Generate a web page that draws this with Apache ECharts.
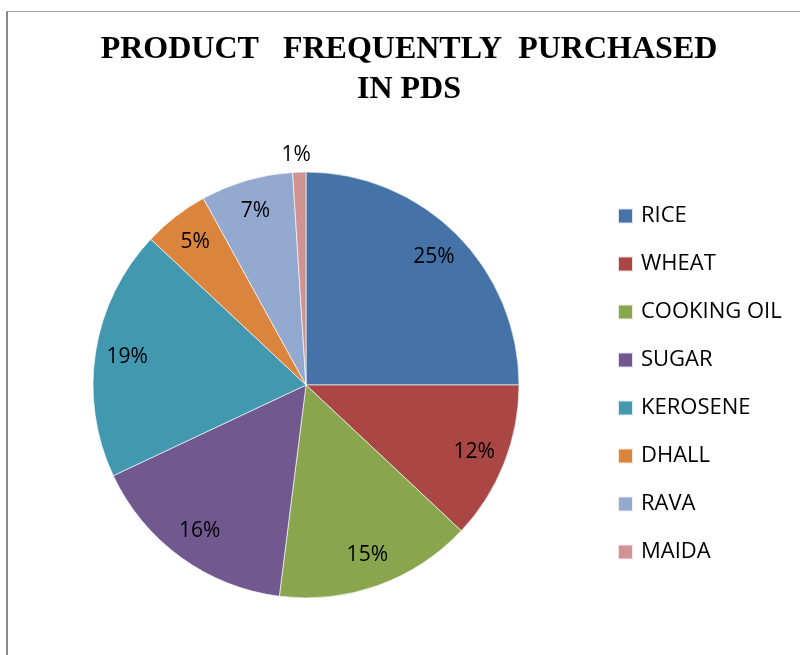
<!DOCTYPE html>
<html>
<head>
<meta charset="utf-8">
<script src="https://cdn.jsdelivr.net/npm/echarts@6/dist/echarts.min.js"></script>
<style>
html,body{margin:0;padding:0;background:#fff;}
#chart{width:800px;height:655px;}
</style>
</head>
<body>
<div id="chart"></div>
<script>
const categories = ['RICE', 'WHEAT', 'COOKING OIL', 'SUGAR', 'KEROSENE', 'DHALL', 'RAVA', 'MAIDA'];
const values = [25, 12, 15, 16, 19, 5, 7, 1];
const colors = ['#4572A7', '#AA4643', '#89A54E', '#71588F', '#4198AF', '#DB843D', '#93A9CF', '#D19392'];
const titleText = 'PRODUCT   FREQUENTLY  PURCHASED\nIN PDS';

const chart = echarts.init(document.getElementById('chart'));

const mainData = categories.map((c, i) => ({
  name: c, value: values[i], itemStyle: { color: colors[i] }
}));
const labelData = categories.map((c, i) => {
  const item = { name: c, value: values[i] };
  if (c === 'MAIDA') {
    item.label = { position: 'outside' };
    item.labelLine = { show: false, length: 17, length2: 0 };
  }
  return item;
});

chart.setOption({
  animation: false,
  backgroundColor: '#ffffff',
  graphic: [
    { type: 'line', shape: { x1: 7, y1: 11, x2: 7, y2: 660 }, style: { stroke: '#888888', lineWidth: 2 }, silent: true },
    { type: 'line', shape: { x1: 6, y1: 11.5, x2: 805, y2: 11.5 }, style: { stroke: '#a0a0a0', lineWidth: 1.2 }, silent: true }
  ],
  title: {
    text: titleText,
    left: 409,
    top: 30,
    padding: 0,
    textAlign: 'center',
    textStyle: {
      fontFamily: '"Liberation Serif", "DejaVu Serif", serif',
      fontWeight: 'bold',
      fontSize: 32,
      lineHeight: 40,
      color: '#000'
    }
  },
  legend: {
    orient: 'vertical',
    left: 617,
    top: 205,
    padding: 0,
    itemWidth: 15,
    itemHeight: 15,
    itemGap: 26,
    icon: 'rect',
    data: categories,
    selectedMode: false,
    textStyle: {
      fontFamily: '"Open Sans", sans-serif',
      fontSize: 22,
      lineHeight: 22,
      color: '#000',
      padding: [0, 0, 0, 3]
    }
  },
  series: [
    {
      type: 'pie',
      center: [306, 385],
      radius: [0, 213],
      startAngle: 90,
      clockwise: true,
      silent: true,
      label: { show: false },
      labelLine: { show: false },
      itemStyle: { borderColor: 'rgba(255,255,255,0.8)', borderWidth: 0.8 },
      data: mainData
    },
    {
      type: 'pie',
      center: [306, 385],
      radius: [143, 213],
      startAngle: 90,
      clockwise: true,
      silent: true,
      avoidLabelOverlap: false,
      itemStyle: { color: 'rgba(0,0,0,0)', borderWidth: 0 },
      label: {
        show: true,
        position: 'inside',
        formatter: '{c}%',
        fontFamily: '"Open Sans", sans-serif',
        fontSize: 21,
        color: '#000'
      },
      labelLayout: function (p) {
        if (p.dataIndex === categories.indexOf('MAIDA')) {
          return { dx: 17 };
        }
        return {};
      },
      data: labelData
    }
  ]
});
</script>
</body>
</html>
